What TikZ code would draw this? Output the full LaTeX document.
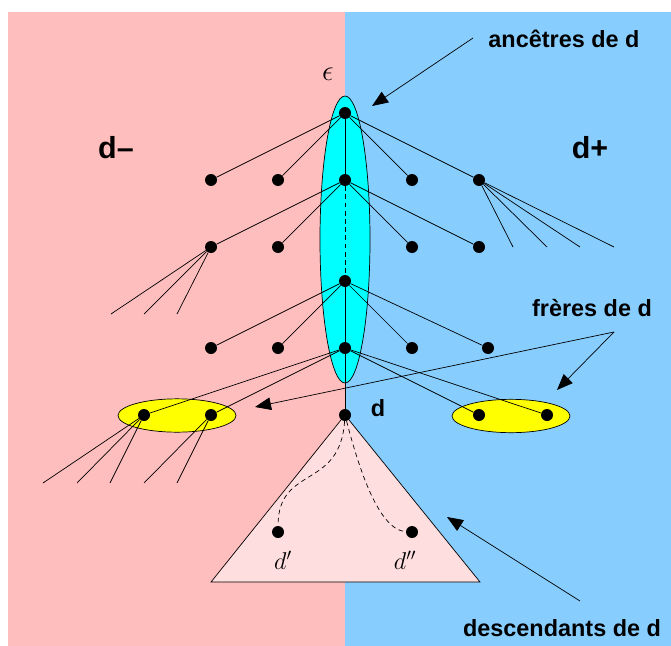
\documentclass[tikz,border=0pt]{standalone}
\usepackage{fontspec}
\setsansfont{Liberation Sans}
\usetikzlibrary{arrows.meta,shapes.geometric}
\definecolor{pinkbg}{RGB}{255,190,190}
\definecolor{bluebg}{RGB}{135,206,255}
\definecolor{trifill}{RGB}{255,222,224}
\definecolor{ancfill}{RGB}{0,255,255}
\definecolor{sibfill}{RGB}{255,255,0}
\tikzset{
 dot/.style={circle,fill=black,inner sep=0pt,minimum size=0.36cm},
 edge/.style={line width=0.6pt},
 lab/.style={font=\sffamily\bfseries\fontsize{20}{24}\selectfont, inner sep=0pt},
 biglab/.style={font=\sffamily\bfseries\fontsize{26}{30}\selectfont, inner sep=0pt},
 mlab/.style={font=\huge, inner sep=0pt},
 epslab/.style={font=\Huge, inner sep=0pt},
 dsh/.style={dash pattern=on 4pt off 3pt},
 arr/.style={line width=0.6pt,-{Triangle[length=0.48cm,width=0.38cm]}},
 group/.style={ellipse,draw,line width=0.6pt,inner sep=0pt},
}
\begin{document}
\begin{tikzpicture}[x=0.03cm,y=-0.03cm]
\useasboundingbox (0,0) rectangle (671,646);
\fill[pinkbg] (8,12) rectangle (345,646);
\fill[bluebg] (345,12) rectangle (671,646);
% groups
\node[group,fill=ancfill,minimum width=1.5cm,minimum height=8.61cm] (anc) at (345,239.5) {};
\node[group,fill=sibfill,minimum width=3.54cm,minimum height=1.0cm] (sibL) at (177,415.5) {};
\node[group,fill=sibfill,minimum width=3.54cm,minimum height=1.0cm] (sibR) at (511,416) {};
% triangle
\coordinate (tA) at (345,415);
\coordinate (tB) at (211,582);
\coordinate (tC) at (480,582);
\draw[fill=trifill,line width=0.6pt] (tA) -- (tB) -- (tC) -- cycle;
% nodes
\node[dot] (r) at (345,113) {};
\node[dot] (a1) at (211,180) {};
\node[dot] (a2) at (278,180) {};
\node[dot] (n1) at (345,180) {};
\node[dot] (a4) at (412,180) {};
\node[dot] (a5) at (479,180) {};
\node[dot] (b1) at (211,247) {};
\node[dot] (b2) at (278,247) {};
\node[dot] (b4) at (412,247) {};
\node[dot] (b5) at (479,247) {};
\node[dot] (n2) at (345,281) {};
\node[dot] (c1) at (211,348) {};
\node[dot] (c2) at (278,348) {};
\node[dot] (n3) at (345,348) {};
\node[dot] (c4) at (412,348) {};
\node[dot] (c5) at (488,348) {};
\node[dot] (s1) at (144,415) {};
\node[dot] (s2) at (211,415) {};
\node[dot] (d) at (345,415) {};
\node[dot] (s4) at (479,415) {};
\node[dot] (s5) at (547,415) {};
\node[dot] (dp) at (278,532) {};
\node[dot] (dpp) at (412,532) {};
% edges
\foreach \t in {a1,a2,n1,a4,a5} \draw[edge] (r) -- (\t);
\foreach \t in {b1,b2,b4,b5} \draw[edge] (n1) -- (\t);
\draw[edge,dsh] (n1) -- (n2);
\foreach \t in {c1,c2,n3,c4,c5} \draw[edge] (n2) -- (\t);
\foreach \t in {s1,s2,d,s4,s5} \draw[edge] (n3) -- (\t);
\foreach \x in {513,547,580,614} \draw[edge] (a5) -- (\x,247);
\foreach \x in {111,144,177} \draw[edge] (b1) -- (\x,314);
\foreach \x in {43,77,110} \draw[edge] (s1) -- (\x,483);
\foreach \x in {144,177} \draw[edge] (s2) -- (\x,483);
\draw[edge,dsh] (d) .. controls (340,490) and (278,465) .. (dp);
\draw[edge,dsh] (d) .. controls (358,465) and (378,530) .. (dpp);
% labels
\node[epslab] (eps) at (328,74) {$\epsilon$};
\node[biglab] (dm) at (116,148) {d–};
\node[biglab] (dpl) at (590,148) {d+};
\node[lab] (dl) at (378,408) {d};
\node[mlab] (dpl1) at (283,560) {$d'$};
\node[mlab] (dpl2) at (405,560) {$d''$};
\node[lab] (ancl) at (564,39) {ancêtres de d};
\node[lab] (frl) at (592,308) {frères de d};
\node[lab] (desl) at (562,628) {descendants de d};
% arrows
\coordinate (ancs) at (473,38);
\coordinate (anct) at (372,106);
\draw[arr] (ancs) -- (anct);
\coordinate (frs) at (614,332);
\coordinate (frtL) at (255,407);
\coordinate (frtR) at (557,390);
\draw[arr] (frs) -- (frtL);
\draw[arr] (frs) -- (frtR);
\coordinate (dess) at (580,601);
\coordinate (dest) at (447,517);
\draw[arr] (dess) -- (dest);
\end{tikzpicture}
\end{document}
